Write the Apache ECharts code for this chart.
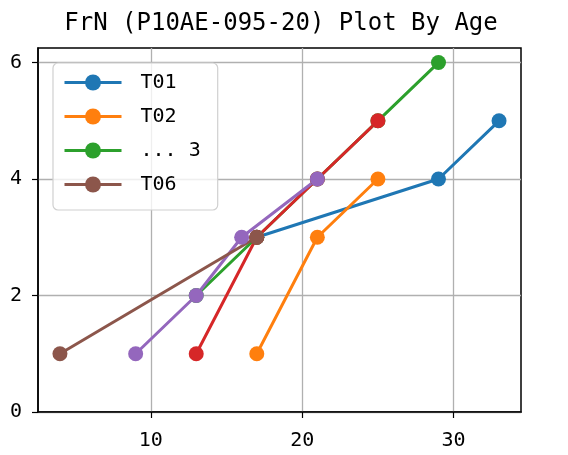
<!DOCTYPE html>
<html><head><meta charset="utf-8">
<script src="https://cdn.jsdelivr.net/npm/echarts@6/dist/echarts.min.js"></script>
<style>html,body{margin:0;padding:0;background:#fff}#c{width:568px;height:455px}</style>
</head><body><div id="c"></div>
<script>
const titleText = 'FrN (P10AE-095-20) Plot By Age';
const seriesNames = ['T01', 'T02', '... 3', 'T04', 'T05', 'T06'];
const legendNames = ['T01', 'T02', '... 3', 'T06'];
const colors = ['#1f77b4', '#ff7f0e', '#2ca02c', '#d62728', '#9467bd', '#8c564b'];
const t01Age = [17, 29, 33];
const t01Val = [3, 4, 5];
const t02Age = [17, 21, 25];
const t02Val = [1, 3, 4];
const t03Age = [13, 17, 21, 25, 29];
const t03Val = [2, 3, 4, 5, 6];
const t04Age = [13, 17, 21, 25];
const t04Val = [1, 3, 4, 5];
const t05Age = [9, 13, 16, 21];
const t05Val = [1, 2, 3, 4];
const t06Age = [4, 17];
const t06Val = [1, 3];
const xTicks = [10, 20, 30];
const yTicks = [0, 2, 4, 6];

const ages = [t01Age, t02Age, t03Age, t04Age, t05Age, t06Age];
const vals = [t01Val, t02Val, t03Val, t04Val, t05Val, t06Val];
const FONT = 'DejaVu Sans Mono';

const series = seriesNames.map((n, i) => ({
  name: n,
  type: 'line',
  data: ages[i].map((a, j) => [a, vals[i][j]]),
  color: colors[i],
  symbol: 'circle',
  symbolSize: 15,
  lineStyle: {width: 3},
  itemStyle: {color: colors[i]},
  emphasis: {disabled: true},
  animation: false
}));

const chart = echarts.init(document.getElementById('c'));
chart.setOption({
  animation: false,
  title: {
    text: titleText, left: 276, top: 7, textAlign: 'center',
    textStyle: {fontFamily: FONT, fontSize: 24, fontWeight: 'normal', color: '#000'}
  },
  grid: {left: 38, right: 47, top: 48, bottom: 43, show: true, borderColor: '#000', borderWidth: 1.5, backgroundColor: 'transparent'},
  legend: {
    data: legendNames, orient: 'vertical', left: 53, top: 63,
    itemWidth: 57, itemHeight: 20, itemGap: 13,
    padding: [9, 17, 15, 10],
    backgroundColor: 'rgba(255,255,255,0.8)', borderColor: '#d0d0d0', borderWidth: 1.2, borderRadius: 5,
    lineStyle: {width: 3},
    textStyle: {fontFamily: FONT, fontSize: 20, color: '#000', padding: [0, 0, 0, 14], lineHeight: 21}
  },
  xAxis: {
    type: 'value', min: 2.55, max: 34.45,
    axisLine: {show: true, onZero: false, lineStyle: {color: '#000', width: 1.5}},
    axisTick: {show: true, length: 6, customValues: xTicks, lineStyle: {color: '#000', width: 1.2}},
    axisLabel: {customValues: xTicks, fontFamily: FONT, fontSize: 20, color: '#000', margin: 19},
    splitLine: {show: true, lineStyle: {color: '#b0b0b0', width: 1.3}}
  },
  yAxis: {
    type: 'value', min: 0, max: 6.25,
    axisLine: {show: true, lineStyle: {color: '#000', width: 1.5}},
    axisTick: {show: true, length: 6, customValues: yTicks, lineStyle: {color: '#000', width: 1.2}},
    axisLabel: {customValues: yTicks, fontFamily: FONT, fontSize: 20, color: '#000', margin: 16},
    splitLine: {show: true, lineStyle: {color: '#b0b0b0', width: 1.3}}
  },
  series: series
});
</script></body></html>
